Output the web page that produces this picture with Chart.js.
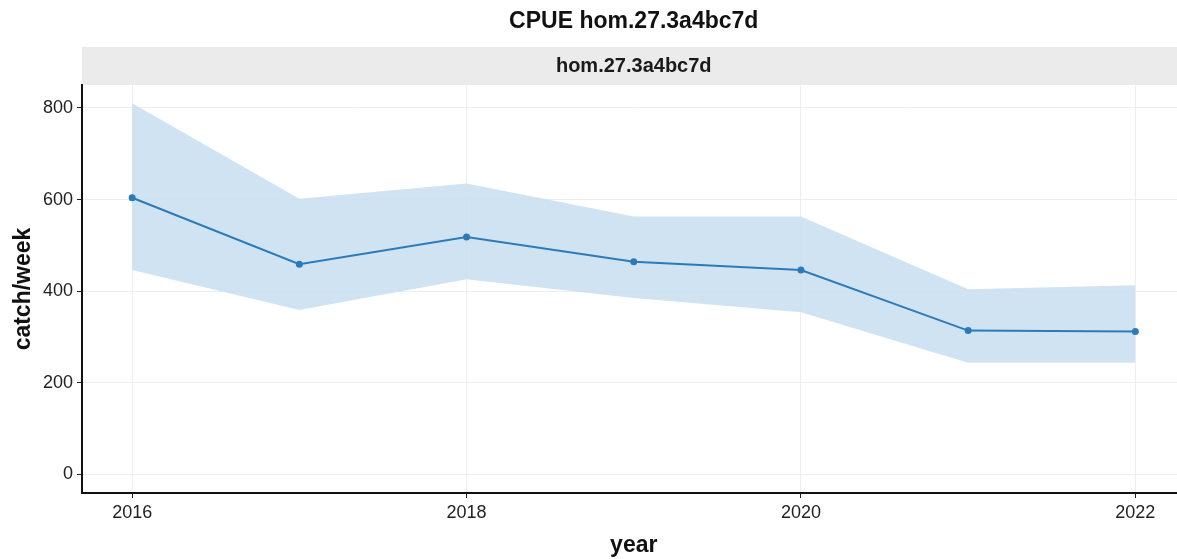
<!DOCTYPE html>
<html>
<head>
<meta charset="utf-8">
<script src="https://cdn.jsdelivr.net/npm/chart.js@4"></script>
<style>
  html, body { margin: 0; padding: 0; background: #fff; overflow: hidden; }
  #wrap { width: 1190px; height: 559px; }
</style>
</head>
<body>
<div id="wrap"><canvas id="cpueChart" width="1190" height="559"></canvas></div>
<script>
// data
const years = [2016, 2017, 2018, 2019, 2020, 2021, 2022];
const cpue = [604, 459, 518, 464, 446, 314, 312];
const upper = [810, 602, 635, 563, 563, 404, 413];
const lower = [446, 359, 426, 385, 354, 244, 244];
const xTicks = [2016, 2018, 2020, 2022];
const yTicks = [0, 200, 400, 600, 800];

const mainTitle = 'CPUE hom.27.3a4bc7d';
const stripLabel = 'hom.27.3a4bc7d';

const FONT = '"Liberation Sans", Arial, sans-serif';

// title and grey facet strip above the panel
const stripPlugin = {
    id: 'strip',
    beforeDraw(chart) {
        const { ctx, chartArea } = chart;
        ctx.save();
        ctx.fillStyle = '#ebebeb';
        ctx.fillRect(chartArea.left, 47, chartArea.right - chartArea.left, chartArea.top - 47);
        ctx.restore();
    },
    afterDraw(chart) {
        const { ctx, chartArea } = chart;
        const cx = (chartArea.left + chartArea.right) / 2;
        ctx.save();
        ctx.fillStyle = '#111';
        ctx.textAlign = 'center';
        ctx.textBaseline = 'middle';
        ctx.font = 'bold 23px ' + FONT;
        ctx.fillText(mainTitle, cx, 22);
        ctx.fillStyle = '#1a1a1a';
        ctx.font = 'bold 20px ' + FONT;
        ctx.fillText(stripLabel, cx, 66);
        ctx.restore();
    }
};

const toPoints = arr => arr.map((v, i) => ({ x: years[i], y: v }));

const ctx = document.getElementById('cpueChart').getContext('2d');
new Chart(ctx, {
    type: 'line',
    data: {
        datasets: [
            {
                label: 'cpue',
                data: toPoints(cpue),
                borderColor: '#2b7bba',
                backgroundColor: '#2b7bba',
                borderWidth: 2,
                pointRadius: 2.5,
                pointHoverRadius: 2.5,
                tension: 0,
                fill: false,
                order: 0
            },
            {
                label: 'upper',
                data: toPoints(upper),
                borderWidth: 0,
                pointRadius: 0,
                backgroundColor: 'rgba(200, 222, 240, 0.85)',
                fill: '+1',
                tension: 0,
                order: 1
            },
            {
                label: 'lower',
                data: toPoints(lower),
                borderWidth: 0,
                pointRadius: 0,
                fill: false,
                tension: 0,
                order: 2
            }
        ]
    },
    options: {
        responsive: false,
        animation: false,
        layout: {
            padding: { top: 85, right: 4, left: 0, bottom: 0 }
        },
        plugins: {
            legend: { display: false },
            tooltip: { enabled: false }
        },
        scales: {
            x: {
                type: 'linear',
                min: 2015.7,
                max: 2022.3,
                afterBuildTicks: scale => { scale.ticks = xTicks.map(v => ({ value: v })); },
                afterFit: scale => { scale.height = 66; },
                ticks: {
                    color: '#222',
                    padding: 4,
                    font: { family: FONT, size: 18 },
                    callback: v => String(v)
                },
                grid: {
                    color: '#eeeeee',
                    lineWidth: 1,
                    tickColor: '#222',
                    tickLength: 5
                },
                border: { color: '#111', width: 2 },
                title: {
                    display: true,
                    text: 'year',
                    color: '#111',
                    font: { family: FONT, size: 23, weight: 'bold' },
                    padding: { top: 0, bottom: 0 }
                }
            },
            y: {
                type: 'linear',
                min: -40.5,
                max: 850,
                afterBuildTicks: scale => { scale.ticks = yTicks.map(v => ({ value: v })); },
                afterFit: scale => { scale.width = 82; },
                ticks: {
                    color: '#222',
                    padding: 4,
                    font: { family: FONT, size: 18 },
                    callback: v => String(v)
                },
                grid: {
                    color: '#eeeeee',
                    lineWidth: 1,
                    tickColor: '#222',
                    tickLength: 5
                },
                border: { color: '#111', width: 2 },
                title: {
                    display: true,
                    text: 'catch/week',
                    color: '#111',
                    font: { family: FONT, size: 23, weight: 'bold' },
                    padding: { top: 10, bottom: 0 }
                }
            }
        }
    },
    plugins: [stripPlugin]
});
</script>
</body>
</html>
